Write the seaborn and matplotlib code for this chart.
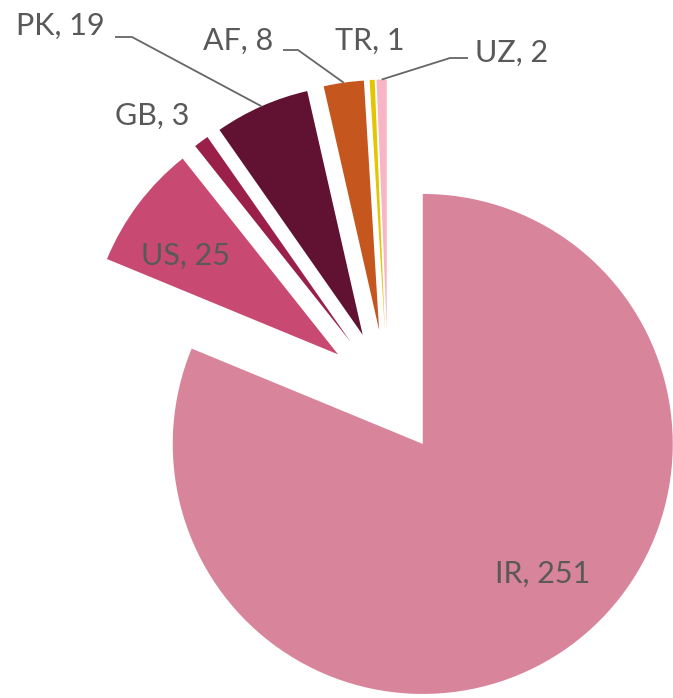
#!/usr/bin/env python3
import matplotlib.pyplot as plt
import numpy as np
import seaborn as sns


COUNTRIES = ["IR", "US", "GB", "PK", "AF", "TR", "UZ"]
COUNTS = [251, 25, 3, 19, 8, 1, 2]
COLORS = ["#D8849B", "#C84A72", "#9B2049", "#611232", "#C5561D", "#E5C400", "#F7B5C6"]
EXPLODE = 0.25

TEXT_COLOR = "#595959"
LINE_COLOR = "#666666"

# layout helpers: reference canvas is 673x698 px, pie radius 250 px
W_PX, H_PX = 673, 698
R_PX = 250.0
CENTER_PX = (388, 392)

# label anchor (centre x, baseline y) in canvas pixels
LABEL_POS = {
    "IR": (543, 583),
    "US": (186, 265),
    "GB": (152, 125),
    "PK": (60, 35),
    "AF": (238, 50),
    "TR": (370, 50),
    "UZ": (512, 62),
}
# leader lines: horizontal tick start, elbow (then to slice edge)
LEADERS = {
    "PK": [(115, 37), (132, 37)],
    "AF": [(283, 50), (298, 50)],
    "UZ": [(468, 58), (450, 58)],
}


def px(x, y):
    return (x - CENTER_PX[0]) / R_PX, (CENTER_PX[1] - y) / R_PX


def main():
    sns.set_theme(style="white")
    plt.rcParams["font.family"] = ["Lato", "DejaVu Sans"]

    fig = plt.figure(figsize=(W_PX / 100, H_PX / 100), dpi=100)
    ax = fig.add_axes([0, 0, 1, 1])

    wedges, _ = ax.pie(
        COUNTS,
        colors=COLORS,
        explode=[EXPLODE] * len(COUNTS),
        startangle=90,
        counterclock=False,
        radius=1.0,
        wedgeprops=dict(linewidth=0, antialiased=True),
    )

    x0, y0 = px(0, H_PX)
    x1, y1 = px(W_PX, 0)
    ax.set_xlim(x0, x1)
    ax.set_ylim(y0, y1)
    ax.set_aspect("equal")
    ax.axis("off")

    for name, value, wedge in zip(COUNTRIES, COUNTS, wedges):
        lx, ly = px(*LABEL_POS[name])
        ax.text(lx, ly, f"{name}, {value}", ha="center", va="baseline",
                fontsize=22, color=TEXT_COLOR)
        if name in LEADERS:
            mid = np.deg2rad((wedge.theta1 + wedge.theta2) / 2)
            cx, cy = wedge.center
            ex, ey = cx + wedge.r * np.cos(mid), cy + wedge.r * np.sin(mid)
            pts = [px(*p) for p in LEADERS[name]] + [(ex, ey)]
            xs, ys = zip(*pts)
            ax.plot(xs, ys, color=LINE_COLOR, lw=1.3, solid_capstyle="butt")

    fig.savefig("out.png", dpi=100, facecolor="white")
    plt.close(fig)


if __name__ == "__main__":
    main()
